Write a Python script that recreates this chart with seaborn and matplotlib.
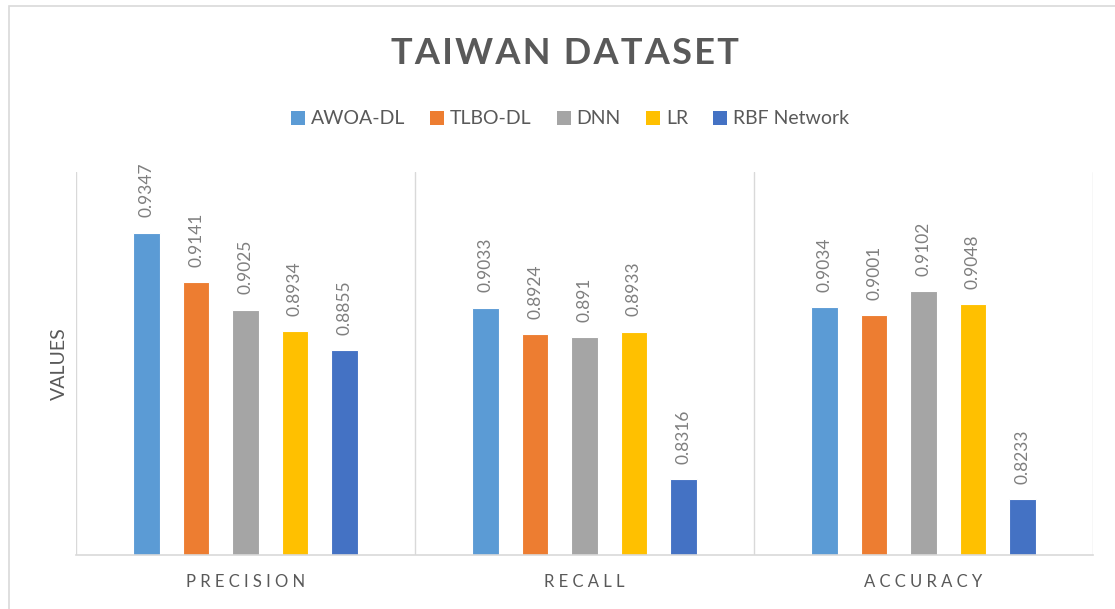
import pandas as pd
import matplotlib.pyplot as plt
import seaborn as sns
from matplotlib.patches import Patch, Rectangle

# data
metrics = ['PRECISION', 'RECALL', 'ACCURACY']
models = ['AWOA-DL', 'TLBO-DL', 'DNN', 'LR', 'RBF Network']
awoa_dl = [0.9347, 0.9033, 0.9034]
tlbo_dl = [0.9141, 0.8924, 0.9001]
dnn = [0.9025, 0.891, 0.9102]
lr = [0.8934, 0.8933, 0.9048]
rbf = [0.8855, 0.8316, 0.8233]
colors = ['#5B9BD5', '#ED7D31', '#A5A5A5', '#FFC000', '#4472C4']

series = [awoa_dl, tlbo_dl, dnn, lr, rbf]
rows = []
for m, vals in zip(models, series):
    for met, v in zip(metrics, vals):
        rows.append({'metric': met, 'model': m, 'value': v})
df = pd.DataFrame(rows)

sns.set_style('white')
plt.rcParams['font.family'] = ['Lato', 'DejaVu Sans']

fig = plt.figure(figsize=(11.15, 6.09), dpi=100)
ax = fig.add_axes([76 / 1115, 54 / 609, (1093 - 76) / 1115, (555 - 172) / 609])

sns.barplot(data=df, x='metric', y='value', hue='model', palette=colors,
            saturation=1, width=0.73, gap=0.47, edgecolor='white', linewidth=0.8,
            legend=False, ax=ax)

for cont in ax.containers:
    ax.bar_label(cont, labels=[f'{v:g}' for v in cont.datavalues], rotation=90,
                 padding=11, color='#7f7f7f', fontsize=12.5)

ax.set_ylim(0.8, 0.96)
ax.set_xlim(-0.5, 2.5)
ax.set_yticks([])
for x in [-0.5, 0.5, 1.5, 2.5]:
    ax.axvline(x, color='#d9d9d9', lw=1, zorder=0)
for s in ['top', 'left', 'right']:
    ax.spines[s].set_visible(False)
ax.spines['bottom'].set_color('#d9d9d9')
ax.spines['bottom'].set_linewidth(1.2)

ax.set_xticks(range(len(metrics)))
ax.set_xticklabels([' '.join(m) for m in metrics], fontsize=12, color='#595959')
ax.tick_params(axis='x', length=0, pad=14)
ax.set_xlabel('')
ax.set_ylabel('VALUES', fontsize=14, color='#595959', labelpad=6)

title = '\u200a'.join('TAIWAN DATASET')
fig.text(565 / 1115, 1 - 54 / 609, title, ha='center', va='center',
         fontsize=26, fontweight='bold', color='#595959')

handles = [Patch(facecolor=c, edgecolor='none') for c in colors]
fig.legend(handles, models, loc='center', bbox_to_anchor=(570 / 1115, 1 - 119 / 609),
           ncol=5, frameon=False, fontsize=14, handlelength=0.72, handleheight=0.72,
           handletextpad=0.3, columnspacing=1.3, labelcolor='#595959')

# outer chart border
fig.patches.append(Rectangle((9 / 1115, -0.1), 1.2, 1 - 6 / 609 + 0.1,
                             transform=fig.transFigure, fill=False,
                             edgecolor='#d9d9d9', lw=1.2))

plt.savefig('out.png', dpi=100)
